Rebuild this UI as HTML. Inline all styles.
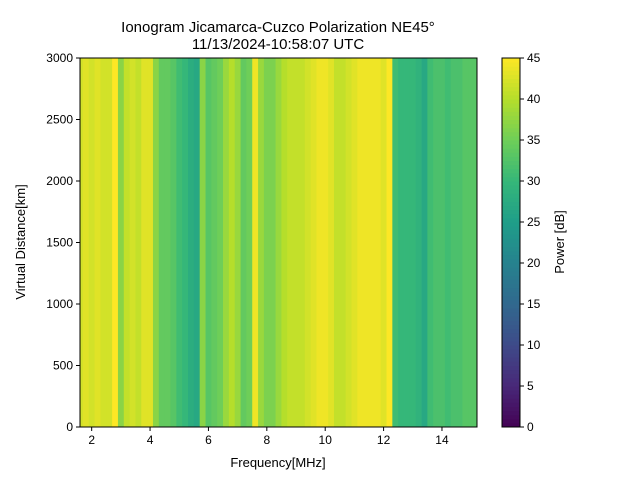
<!DOCTYPE html>
<html><head><meta charset="utf-8"><style>
body{margin:0;background:#fff}
svg text{font-family:"Liberation Sans","DejaVu Sans",sans-serif;fill:#000}
</style></head><body>
<svg id="chart" width="640" height="480" xmlns="http://www.w3.org/2000/svg">
<defs><clipPath id="pc"><rect x="80" y="58" width="397" height="369"/></clipPath></defs>
<rect width="640" height="480" fill="#fff"/>
<text x="278" y="32" font-size="15" text-anchor="middle">Ionogram Jicamarca-Cuzco Polarization NE45°</text>
<text x="278" y="49" font-size="15" text-anchor="middle">11/13/2024-10:58:07 UTC</text>
<g id="heat" clip-path="url(#pc)"></g>
<g id="xaxis"></g>
<g id="yaxis"></g>
<rect x="80" y="58" width="397" height="369" fill="none" stroke="#000" stroke-width="1"/>
<text x="278" y="467" font-size="13" text-anchor="middle">Frequency[MHz]</text>
<text transform="translate(25,242) rotate(-90)" font-size="13" text-anchor="middle">Virtual Distance[km]</text>
<g id="cbar"></g>
<text transform="translate(564,242) rotate(-90)" font-size="13" text-anchor="middle">Power [dB]</text>
</svg>
<script>
const freqBins=[1.6,1.8,2.0,2.2,2.4,2.6,2.8,3.0,3.2,3.4,3.6,3.8,4.0,4.2,4.4,4.6,4.8,5.0,5.2,5.4,5.6,5.8,6.0,6.2,6.4,6.6,6.8,7.0,7.2,7.4,7.6,7.8,8.0,8.2,8.4,8.6,8.8,9.0,9.2,9.4,9.6,9.8,10.0,10.2,10.4,10.6,10.8,11.0,11.2,11.4,11.6,11.8,12.0,12.2,12.4,12.6,12.8,13.0,13.2,13.4,13.6,13.8,14.0,14.2,14.4,14.6,14.8,15.0,15.2];
const powerValues=[42,43,42,43,42,42,45,37,41,42,41,43,43,37,34,34,33,31,30,28,27,37,33,34,35,38,40,38,34,35,44,38,36,36,38,40,41,41,41,42,43,44,44,43,41,41,42,43,44,44,44,44,43,45,31,30,30,30,29,27,31,32,32,31,32,32,33,33,33];
const xTicks=[2,4,6,8,10,12,14];
const yTicks=[0,500,1000,1500,2000,2500,3000];
const cTicks=[0,5,10,15,20,25,30,35,40,45];
const binWidth=0.2;
const NS="http://www.w3.org/2000/svg";
const X0=80,X1=477,Y0=58,Y1=427,FMIN=1.6,FMAX=15.2,DMAX=3000,PMAX=45;
const xs=f=>X0+(f-FMIN)/(FMAX-FMIN)*(X1-X0);
const ys=d=>Y1-d/DMAX*(Y1-Y0);
const cs=p=>Y1-p/PMAX*(Y1-Y0);
const stops=[[68,1,84],[72,40,120],[62,74,137],[49,104,142],[38,130,142],[31,158,137],[53,183,121],[110,206,88],[181,222,43],[253,231,37]];
function viridis(t){t=Math.max(0,Math.min(1,t));const s=t*(stops.length-1),i=Math.min(stops.length-2,Math.floor(s)),u=s-i;
const c=stops[i].map((v,k)=>Math.round(v+(stops[i+1][k]-v)*u));return `rgb(${c[0]},${c[1]},${c[2]})`;}
function el(tag,attrs,parent){const e=document.createElementNS(NS,tag);for(const k in attrs)e.setAttribute(k,attrs[k]);parent.appendChild(e);return e;}
const heat=document.getElementById('heat');
freqBins.forEach((f,i)=>{
 const x=xs(f-binWidth/2),w=xs(f+binWidth/2)-x;
 const r=el('rect',{x:x,y:Y0,width:w+0.4,height:Y1-Y0,fill:viridis(powerValues[i]/PMAX)},heat);
 
 
});
const xa=document.getElementById('xaxis');
xTicks.forEach(t=>{const x=xs(t);
 el('line',{x1:x,x2:x,y1:Y1,y2:Y1+4,stroke:'#000'},xa);
 const tx=el('text',{x:x,y:Y1+17,'font-size':12,'text-anchor':'middle'},xa);tx.textContent=t;
 
 
});
const ya=document.getElementById('yaxis');
yTicks.forEach(t=>{const y=ys(t);
 el('line',{x1:X0-4,x2:X0,y1:y,y2:y,stroke:'#000'},ya);
 const tx=el('text',{x:X0-7,y:y+4,'font-size':12,'text-anchor':'end'},ya);tx.textContent=t;
 
 
});
const cb=document.getElementById('cbar');
for(let i=0;i<90;i++){const p0=i/90*PMAX,p1=(i+1)/90*PMAX;
 el('rect',{x:502,y:cs(p1),width:18,height:cs(p0)-cs(p1)+0.5,fill:viridis((p0+p1)/2/PMAX)},cb);}
el('rect',{x:502,y:Y0,width:18,height:Y1-Y0,fill:'none',stroke:'#000'},cb);
cTicks.forEach(t=>{const y=cs(t);
 el('line',{x1:520,x2:524,y1:y,y2:y,stroke:'#000'},cb);
 const tx=el('text',{x:527,y:y+4,'font-size':12},cb);tx.textContent=t;
 
 
});
</script>
</body></html>
